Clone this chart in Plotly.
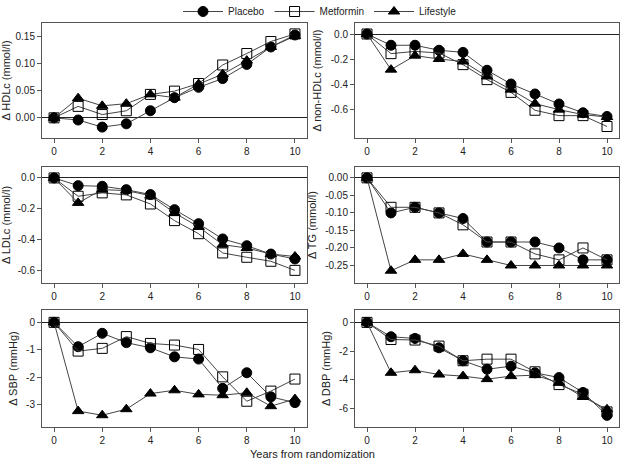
import plotly.graph_objects as go

years = [0, 1, 2, 3, 4, 5, 6, 7, 8, 9, 10]
groups = ["Placebo", "Metformin", "Lifestyle"]

hdl_placebo = [0, -0.004, -0.017, -0.011, 0.013, 0.037, 0.056, 0.072, 0.098, 0.130, 0.152]
hdl_metformin = [0, 0.021, 0.006, 0.013, 0.043, 0.049, 0.063, 0.097, 0.118, 0.140, 0.154]
hdl_lifestyle = [0, 0.036, 0.022, 0.026, 0.043, 0.037, 0.062, 0.080, 0.105, 0.130, 0.150]

nonhdl_placebo = [0, -0.09, -0.09, -0.13, -0.147, -0.29, -0.40, -0.48, -0.56, -0.63, -0.66]
nonhdl_metformin = [0, -0.157, -0.139, -0.152, -0.245, -0.365, -0.467, -0.61, -0.653, -0.653, -0.74]
nonhdl_lifestyle = [0, -0.285, -0.173, -0.20, -0.22, -0.34, -0.445, -0.557, -0.605, -0.645, -0.664]

ldl_placebo = [0, -0.05, -0.054, -0.076, -0.108, -0.206, -0.297, -0.396, -0.44, -0.494, -0.526]
ldl_metformin = [0, -0.119, -0.097, -0.11, -0.169, -0.277, -0.362, -0.487, -0.515, -0.541, -0.60]
ldl_lifestyle = [0, -0.162, -0.076, -0.082, -0.115, -0.227, -0.318, -0.433, -0.455, -0.494, -0.51]

tg_placebo = [0, -0.100, -0.084, -0.100, -0.116, -0.183, -0.183, -0.183, -0.200, -0.234, -0.234]
tg_metformin = [0, -0.084, -0.084, -0.100, -0.134, -0.183, -0.183, -0.217, -0.234, -0.200, -0.234]
tg_lifestyle = [0, -0.265, -0.234, -0.234, -0.217, -0.234, -0.250, -0.250, -0.250, -0.250, -0.250]

sbp_placebo = [0, -0.89, -0.40, -0.74, -0.93, -1.26, -1.34, -2.41, -1.84, -2.72, -2.93]
sbp_metformin = [0, -1.05, -0.95, -0.52, -0.77, -0.83, -0.99, -1.99, -2.88, -2.51, -2.07]
sbp_lifestyle = [0, -3.24, -3.39, -3.17, -2.60, -2.48, -2.63, -2.66, -2.57, -3.06, -2.80]

dbp_placebo = [0, -1.00, -1.12, -1.77, -2.67, -3.26, -3.05, -3.51, -3.84, -4.88, -6.47]
dbp_metformin = [0, -1.19, -1.23, -1.65, -2.67, -2.56, -2.56, -3.44, -4.33, -5.00, -6.23]
dbp_lifestyle = [0, -3.51, -3.33, -3.63, -3.74, -3.95, -3.74, -3.67, -4.21, -5.19, -6.05]

x_ticks = [0, 2, 4, 6, 8, 10]
x_ticklabels = ["0", "2", "4", "6", "8", "10"]

panels = [
    dict(title="Δ HDLc (mmol/l)", data=[hdl_placebo, hdl_metformin, hdl_lifestyle],
         tickvals=[0.0, 0.05, 0.10, 0.15], ticktext=["0.00", "0.05", "0.10", "0.15"], yrange=[-0.037, 0.174]),
    dict(title="Δ non-HDLc (mmol/l)", data=[nonhdl_placebo, nonhdl_metformin, nonhdl_lifestyle],
         tickvals=[0.0, -0.2, -0.4, -0.6], ticktext=["0.0", "-0.2", "-0.4", "-0.6"], yrange=[-0.832, 0.088]),
    dict(title="Δ LDLc (mmol/l)", data=[ldl_placebo, ldl_metformin, ldl_lifestyle],
         tickvals=[0.0, -0.2, -0.4, -0.6], ticktext=["0.0", "-0.2", "-0.4", "-0.6"], yrange=[-0.682, 0.071]),
    dict(title="Δ TG (mmol/l)", data=[tg_placebo, tg_metformin, tg_lifestyle],
         tickvals=[0.0, -0.05, -0.10, -0.15, -0.20, -0.25],
         ticktext=["0.00", "-0.05", "-0.10", "-0.15", "-0.20", "-0.25"], yrange=[-0.30, 0.031]),
    dict(title="Δ SBP (mmHg)", data=[sbp_placebo, sbp_metformin, sbp_lifestyle],
         tickvals=[0, -1, -2, -3], ticktext=["0", "-1", "-2", "-3"], yrange=[-3.82, 0.45]),
    dict(title="Δ DBP (mmHg)", data=[dbp_placebo, dbp_metformin, dbp_lifestyle],
         tickvals=[0, -2, -4, -6], ticktext=["0", "-2", "-4", "-6"], yrange=[-7.28, 0.86]),
]

W, H = 624, 463
col_px = [(42, 307), (355, 619)]
row_px = [(23, 138), (167, 283), (310, 427)]

symbols = ["circle", "square-open", "triangle-up"]
sizes = [10, 10, 10]

FONT = "Arial, Liberation Sans, sans-serif"


def fx(px):
    return px / W


def fy(py):
    return 1 - py / H


fig = go.Figure()
layout = dict(
    width=W, height=H,
    margin=dict(l=0, r=0, t=0, b=0, autoexpand=False),
    paper_bgcolor="white", plot_bgcolor="white",
    font=dict(family=FONT, size=10, color="#222"),
    showlegend=True,
    legend=dict(orientation="h", x=fx(320), xanchor="center", y=1 + 3 / H, yanchor="top",
                font=dict(size=10, color="#222"), bgcolor="rgba(0,0,0,0)",
                itemwidth=40, tracegroupgap=0),
)

for i, p in enumerate(panels):
    r, c = divmod(i, 2)
    n = i + 1
    xa = "xaxis" if n == 1 else f"xaxis{n}"
    ya = "yaxis" if n == 1 else f"yaxis{n}"
    xr = "x" if n == 1 else f"x{n}"
    yr = "y" if n == 1 else f"y{n}"
    x0, x1 = col_px[c]
    y0, y1 = row_px[r]
    layout[xa] = dict(
        domain=[fx(x0), fx(x1)], anchor=yr, range=[-0.5, 10.5],
        tickvals=x_ticks, ticktext=x_ticklabels, ticks="outside", ticklen=4,
        tickcolor="#555", showline=True, linecolor="#555", linewidth=1, mirror=True,
        showgrid=False, zeroline=False, tickfont=dict(size=10, color="#222"),
    )
    layout[ya] = dict(
        domain=[fy(y1), fy(y0)], anchor=xr, range=p["yrange"],
        tickvals=p["tickvals"], ticktext=p["ticktext"], ticks="outside", ticklen=4,
        tickcolor="#555", showline=True, linecolor="#555", linewidth=1, mirror=True,
        showgrid=False, zeroline=True, zerolinecolor="#222", zerolinewidth=1,
        tickfont=dict(size=10, color="#222"),
        title=dict(text=p["title"], font=dict(size=11, color="#222"), standoff=6),
    )
    for g, (name, vals) in enumerate(zip(groups, p["data"])):
        fig.add_trace(go.Scatter(
            x=years, y=vals, name=name, xaxis=xr, yaxis=yr,
            mode="lines+markers",
            line=dict(color="#444", width=1),
            marker=dict(symbol=symbols[g], size=sizes[g], color="black",
                        line=dict(color="black", width=1)),
            showlegend=(i == 0), legendgroup=name,
        ))

layout["annotations"] = [dict(
    text="Years from randomization", x=fx(312), y=fy(454), xref="paper", yref="paper",
    xanchor="center", yanchor="middle", showarrow=False,
    font=dict(size=11, color="#222"),
)]

fig.update_layout(**layout)
fig.write_html("out.html", config={"displayModeBar": False},
               post_script="document.body.style.margin='0';")
